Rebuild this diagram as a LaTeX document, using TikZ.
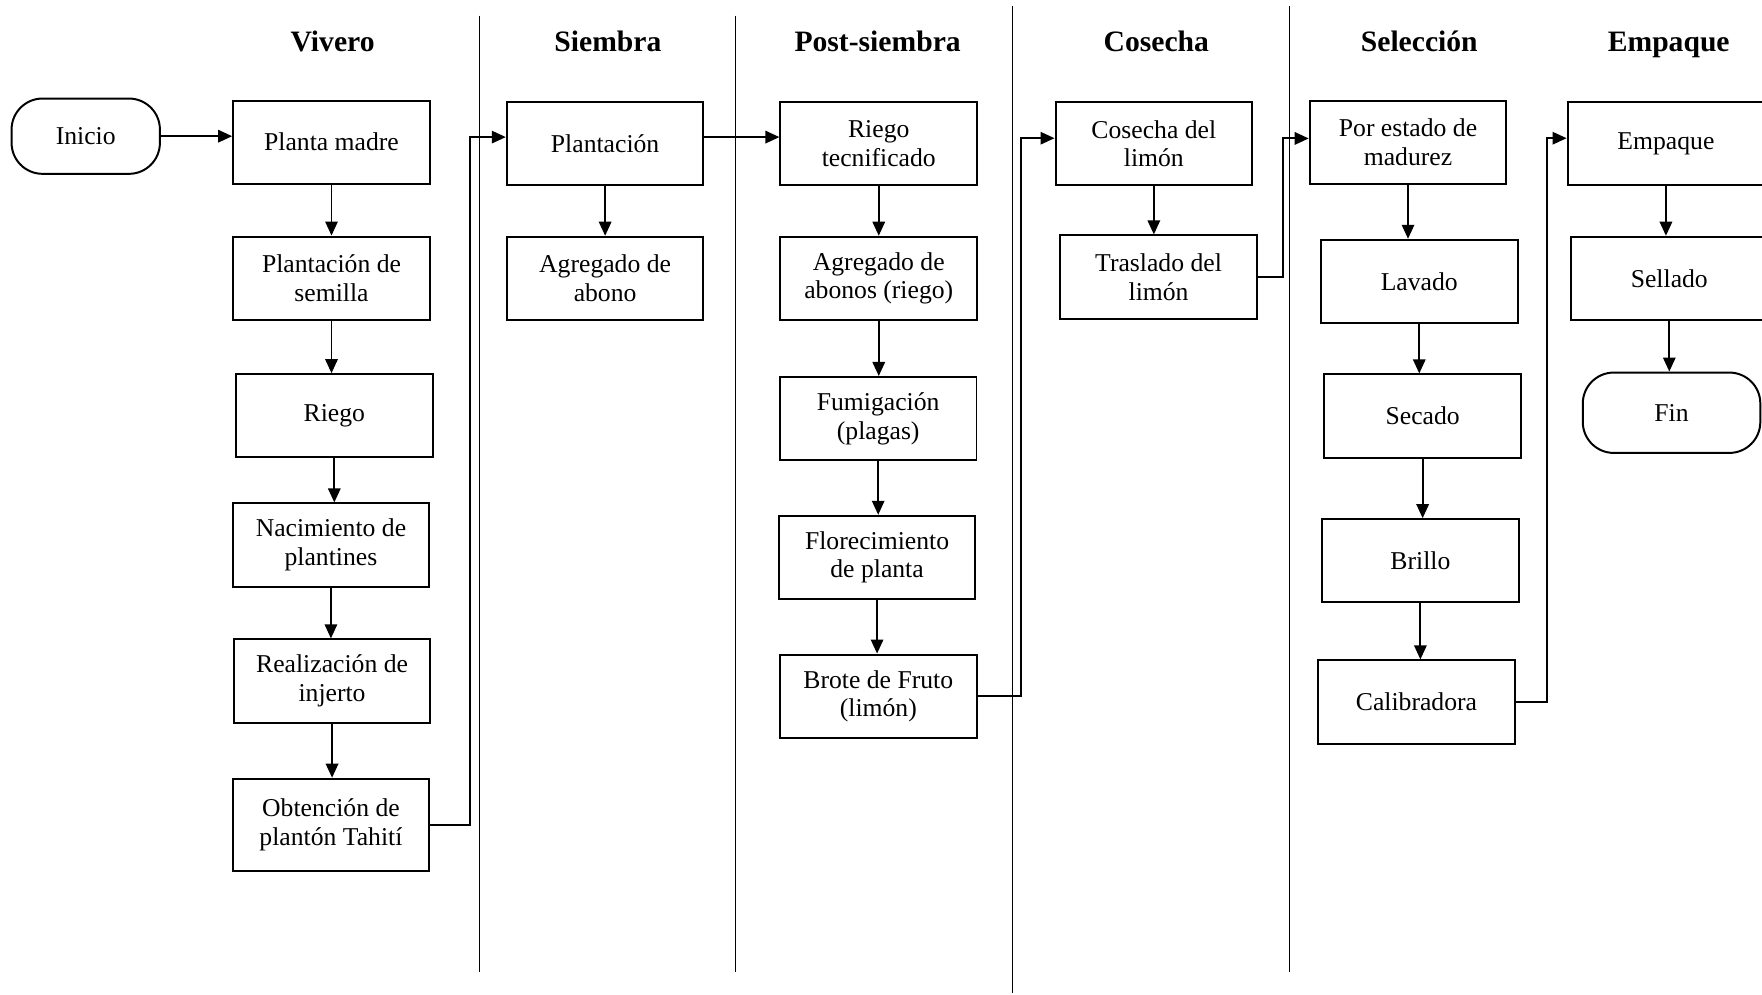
\documentclass[tikz,border=0pt]{standalone}
\usepackage{fontspec}
\setmainfont{Liberation Serif}
\usetikzlibrary{arrows.meta}

\begin{document}
\begin{tikzpicture}[x=0.02cm,y=-0.02cm,
  caja/.style={draw,line width=1pt,minimum width=3.5cm,minimum height=1.48cm,inner sep=2pt,
    align=center,font=\fontsize{13}{14.5}\selectfont},
  termino/.style={caja,rounded corners=0.55cm},
  titulo/.style={anchor=base,font=\fontsize{15}{17}\selectfont\bfseries},
  flecha/.style={line width=1pt,-{Triangle[length=0.25cm,width=0.22cm]}},
  carril/.style={line width=0.45pt}]
  \useasboundingbox (0,0) rectangle (1568,885);
  % carriles
  \draw[carril] (427,14) -- (427,865);
  \draw[carril] (654.5,14) -- (654.5,865);
  \draw[carril] (900.7,5) -- (900.7,884);
  \draw[carril] (1147.5,5) -- (1147.5,865);
  % titulos
  \path (296,45.5) node[titulo] (tvivero) {Vivero} (541,45.5) node[titulo] (tsiembra) {Siembra}
  (781,45.5) node[titulo] (tpost) {Post-siembra} (1029,45.5) node[titulo] (tcosecha) {Cosecha}
  (1263,45.5) node[titulo] (tseleccion) {Selección} (1485,45.5) node[titulo] (tempaque) {Empaque};
  % vivero
  \node[termino,minimum width=2.64cm,minimum height=1.34cm] (inicio) at (76.3,121.2) {Inicio};
  \path (295,126.5) node[caja] (planta) {Planta madre}
  (295,247.5) node[caja] (semilla) {Plantación de\\semilla}
  (297.5,370) node[caja] (riego) {Riego}
  (294.5,485) node[caja] (nacim) {Nacimiento de\\plantines}
  (295.5,606) node[caja] (injerto) {Realización de\\injerto}
  (294.5,734) node[caja,minimum height=1.64cm] (obtencion) {Obtención de\\plantón Tahití};
  % siembra
  \path (538.5,128) node[caja] (plantacion) {Plantación}
  (538.5,247.7) node[caja] (abono) {Agregado de\\abono};
  % post-siembra
  \path (782,128) node[caja] (rtec) {Riego\\tecnificado}
  (782,247.7) node[caja] (abonos) {Agregado de\\abonos (riego)}
  (781.5,372.5) node[caja] (fumig) {Fumigación\\(plagas)}
  (780.5,496) node[caja] (flor) {Florecimiento\\de planta}
  (781.6,619.5) node[caja] (brote) {Brote de Fruto\\(limón)};
  % cosecha
  \path (1026.8,128) node[caja] (cosecha) {Cosecha del\\limón}
  (1031,246.5) node[caja] (traslado) {Traslado del\\limón};
  % seleccion
  \path (1253,126.7) node[caja] (madurez) {Por estado de\\madurez}
  (1263,250.4) node[caja] (lavado) {Lavado}
  (1266,370.2) node[caja] (secado) {Secado}
  (1264,499) node[caja] (brillo) {Brillo}
  (1260.5,624.7) node[caja] (calib) {Calibradora};
  % empaque
  \path (1482.5,128) node[caja] (empaque) {Empaque}
  (1485.5,247.7) node[caja] (sellado) {Sellado};
  \node[termino,minimum width=3.16cm,minimum height=1.43cm] (fin) at (1487.5,367.3) {Fin};
  % flechas
  \draw[flecha] (inicio.east) -- (inicio.east -| planta.west);
  \foreach \a/\b in {planta/semilla,semilla/riego,riego/nacim,nacim/injerto,injerto/obtencion,
    plantacion/abono,rtec/abonos,abonos/fumig,fumig/flor,flor/brote,cosecha/traslado,
    madurez/lavado,lavado/secado,secado/brillo,brillo/calib,empaque/sellado,sellado/fin}
    \draw[flecha] (\a.south) -- (\a.south |- \b.north);
  \draw[flecha] (obtencion.east) -- ++(35,0) |- ([yshift=0.12cm]plantacion.west);
  \draw[flecha] ([yshift=0.12cm]plantacion.east) -- ([yshift=0.12cm]rtec.west);
  \draw[flecha] (brote.east) -- ++(38.6,0) |- ([yshift=0.1cm]cosecha.west);
  \draw[flecha] (traslado.east) -- ++(22.6,0) |- ([yshift=0.07cm]madurez.west);
  \draw[flecha] (calib.east) -- ++(27.4,0) |- ([yshift=0.1cm]empaque.west);
\end{tikzpicture}
\end{document}
